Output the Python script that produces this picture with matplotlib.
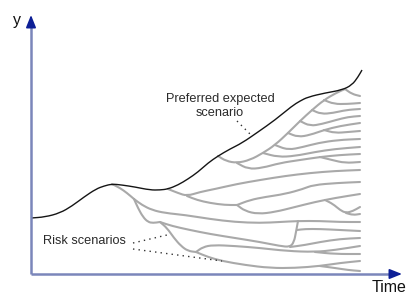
import matplotlib
matplotlib.use("Agg")
import matplotlib.pyplot as plt
from matplotlib.path import Path
from matplotlib.patches import PathPatch

plt.rcParams['font.family'] = ['Liberation Sans', 'DejaVu Sans']

# ---- data (time t, value v) ----
preferred_t = [0, 14, 29, 41, 53, 65, 73, 81, 91, 104, 119, 129, 137, 147, 157, 167, 177, 187,
               199, 211, 227, 244, 261, 269, 277, 294, 311, 321, 327, 331]
preferred_v = [56, 57, 61, 68, 77, 85, 88, 90, 89, 87, 84, 84, 85, 89, 95, 102, 111, 118,
               125, 131, 142, 154, 168, 173, 177, 181, 184, 189, 197, 204]

# upper fan (branching off the preferred scenario)
a0_t = [187, 195, 206, 219, 232, 244, 257, 269, 281, 293, 305, 314]
a0_v = [118, 113, 111, 114, 121, 129, 141, 153, 164, 174, 181, 185]
a1_t = [314, 321, 329]
a1_v = [185, 180, 178]
a2_t = [293, 303, 316, 329]
a2_v = [174, 170, 170, 171]
a3_t = [281, 290, 302, 315, 329]
a3_v = [164, 160, 161, 164, 165]
a4_t = [269, 279, 291, 305, 317, 329]
a4_v = [153, 148, 150, 154, 157, 158]
a5_t = [257, 267, 279, 293, 309, 329]
a5_v = [141, 137, 139, 144, 148, 151]
a6_t = [293, 304, 317, 329]
a6_v = [144, 141, 142, 143]
a7_t = [244, 257, 272, 287, 307, 329]
a7_v = [129, 124, 127, 131, 134, 135]
a8_t = [232, 247, 264, 284, 304, 329]
a8_v = [121, 117, 118, 122, 125, 127]
a9_t = [206, 217, 231, 249, 269, 289, 309, 329]
a9_v = [111, 105, 106, 111, 114, 117, 119, 120]
a10_t = [289, 301, 314, 329]
a10_v = [117, 114, 111, 112]
a11_t = [137, 147, 156, 169, 184, 206, 229, 254, 279, 304, 329]
a11_v = [85, 81, 78, 82, 85, 90, 94, 98, 101, 103, 104]

# middle branches
b0_t = [156, 166, 179, 194, 206]
b0_v = [78, 74, 71, 69, 69]
b1_t = [206, 219, 234, 254, 272, 282, 306, 329]
b1_v = [69, 74, 77, 80, 85, 89, 91, 92]
b2_t = [206, 214, 227, 244, 264, 284, 304, 329]
b2_v = [69, 63, 60, 62, 67, 72, 76, 80]
b3_t = [294, 302, 309, 315, 322, 329]
b3_v = [74, 70, 64, 61, 63, 67]
b4_t = [315, 322, 329]
b4_v = [61, 59, 60]

# risk scenarios (branching at the early peak)
r0_t = [81, 89, 96, 103]
r0_v = [90, 86, 81, 75]
r1_t = [103, 111, 121, 134, 154, 179, 204, 229, 249, 267, 289, 309, 329]
r1_v = [75, 69, 64, 61, 59, 55, 52, 51, 52, 53, 53, 52, 52]
r2_t = [103, 107, 112, 117, 122, 129]
r2_v = [75, 66, 57, 52, 51, 52]
r3_t = [129, 141, 159, 179, 204, 229, 249, 259, 263, 265, 267]
r3_v = [52, 48, 44, 40, 36, 32, 28, 27, 32, 42, 53]
r3w_t = [266, 274, 289, 309, 329]
r3w_v = [44, 45, 45, 44, 43]
r3x_t = [259, 274, 289, 309, 329]
r3x_v = [27, 29, 32, 35, 36]
r4_t = [129, 136, 143, 150, 157, 165]
r4_v = [52, 46, 36, 28, 23, 22]
r5_t = [165, 172, 182, 204, 229, 256, 284, 304, 329]
r5_v = [22, 27, 29, 28, 26, 23, 22, 24, 28]
r5b_t = [284, 304, 329]
r5b_v = [22, 20, 20]
r6_t = [165, 177, 191, 214, 239, 264, 289, 309, 329]
r6_v = [22, 17, 13, 9, 6, 6, 8, 11, 13]
r7_t = [289, 304, 317, 329]
r7_v = [8, 6, 4, 3]

grey_branches = [
    (a0_t, a0_v), (a1_t, a1_v), (a2_t, a2_v), (a3_t, a3_v), (a4_t, a4_v),
    (a5_t, a5_v), (a6_t, a6_v), (a7_t, a7_v), (a8_t, a8_v), (a9_t, a9_v),
    (a10_t, a10_v), (a11_t, a11_v),
    (b0_t, b0_v), (b1_t, b1_v), (b2_t, b2_v), (b3_t, b3_v), (b4_t, b4_v),
    (r0_t, r0_v), (r1_t, r1_v), (r2_t, r2_v), (r3_t, r3_v), (r3w_t, r3w_v),
    (r3x_t, r3x_v), (r4_t, r4_v), (r5_t, r5_v), (r5b_t, r5b_v), (r6_t, r6_v),
    (r7_t, r7_v),
]

label_preferred = "Preferred expected\nscenario"
label_risk = "Risk scenarios"
axis_x_label = "Time"
axis_y_label = "y"

# annotation anchors
pref_text_pos = (189, 168)
pref_leader = ([206, 221], [153, 138])
risk_text_pos = (12, 33)
risk_leader_1 = ([102, 136], [31, 39])
risk_leader_2 = ([102, 191], [25, 13])


def smooth_path(t, v):
    """Quadratic-Bezier path using the data points as control polygon."""
    pts = list(zip(t, v))
    if len(pts) < 3:
        return Path(pts)
    verts = [pts[0]]
    codes = [Path.MOVETO]
    mids = [((pts[i][0] + pts[i + 1][0]) / 2, (pts[i][1] + pts[i + 1][1]) / 2)
            for i in range(len(pts) - 1)]
    verts.append(mids[0]); codes.append(Path.LINETO)
    for i in range(1, len(pts) - 1):
        verts += [pts[i], mids[i]]
        codes += [Path.CURVE3, Path.CURVE3]
    verts.append(pts[-1]); codes.append(Path.LINETO)
    return Path(verts, codes)


# ---- figure ----
fig = plt.figure(figsize=(4.08, 2.96), dpi=100)
ax = fig.add_axes([0, 0, 1, 1])
ax.set_xlim(-31, 377)
ax.set_ylim(-22, 274)
ax.axis('off')

grey = '#a9a9a9'
for t, v in grey_branches:
    ax.add_patch(PathPatch(smooth_path(t, v), facecolor='none', edgecolor=grey, lw=1.5,
                           capstyle='round', joinstyle='round', zorder=2))

ax.add_patch(PathPatch(smooth_path(preferred_t, preferred_v), facecolor='none',
                       edgecolor='#151515', lw=1.0, joinstyle='round', zorder=3))

# axes with arrows
axis_col = '#7b86ba'
navy = '#0d1f96'
x_tip, y_tip = 371, 259
ax.plot([0, x_tip - 8], [0, 0], color=axis_col, lw=1.8, zorder=4, solid_capstyle='butt')
ax.plot([0, 0], [0, y_tip - 8], color=axis_col, lw=1.8, zorder=4, solid_capstyle='butt')
head = dict(arrowstyle='-|>,head_length=0.75,head_width=0.3', color=navy, lw=1.2,
            shrinkA=0, shrinkB=0, mutation_scale=10)
ax.annotate('', xy=(x_tip, 0), xytext=(x_tip - 10, 0), arrowprops=head, zorder=5)
ax.annotate('', xy=(0, y_tip), xytext=(0, y_tip - 10), arrowprops=head, zorder=5)

ax.text(-14, 253, axis_y_label, fontsize=11.5, ha='center', va='center', color='#111111')
ax.text(358, -13, axis_x_label, fontsize=11.5, ha='center', va='center', color='#111111')

ax.text(pref_text_pos[0], pref_text_pos[1], label_preferred, fontsize=9.2, ha='center',
        va='center', multialignment='center', linespacing=1.25, color='#2a2a2a')
ax.plot(pref_leader[0], pref_leader[1], color='#333333', lw=1.0, linestyle=(0, (1, 3)))

ax.text(risk_text_pos[0], risk_text_pos[1], label_risk, fontsize=9.2, ha='left',
        va='center', color='#2a2a2a')
ax.plot(risk_leader_1[0], risk_leader_1[1], color='#333333', lw=1.0, linestyle=(0, (1, 3)))
ax.plot(risk_leader_2[0], risk_leader_2[1], color='#333333', lw=1.0, linestyle=(0, (1, 3)))

fig.savefig('out.png', dpi=100)
